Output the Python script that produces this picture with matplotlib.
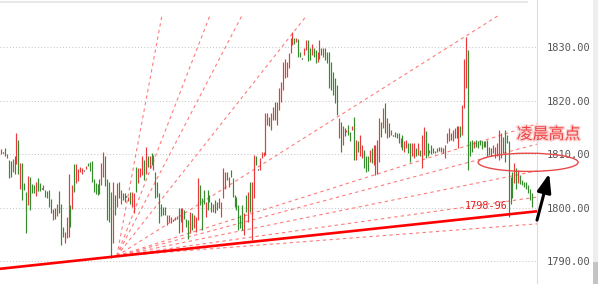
import numpy as np
import matplotlib
matplotlib.use("Agg")
import matplotlib.pyplot as plt
from matplotlib.patches import Ellipse, Rectangle
from matplotlib.lines import Line2D
import matplotlib.patheffects as pe

# bar highs / lows (one entry per bar)
highs = [
    1811.0, 1810.5, 1811.1, 1810.0, 1808.9, 1808.7, 1809.1, 1809.7, 1813.9, 1812.7,
    1808.4, 1808.3, 1804.6, 1802.9, 1805.9, 1805.7, 1804.4, 1804.3, 1804.9, 1805.6,
    1804.7, 1803.7, 1804.3, 1803.3, 1803.1, 1803.3, 1801.6, 1799.7, 1799.9, 1800.8,
    1803.2, 1800.7, 1796.5, 1795.5, 1798.3, 1806.3, 1800.5, 1804.3, 1808.2, 1808.2,
    1807.2, 1807.7, 1807.5, 1807.0, 1807.8, 1808.3, 1808.6, 1808.8, 1805.3, 1804.6,
    1804.4, 1805.4, 1808.3, 1810.5, 1809.7,
    1805.3, 1804.9, 1803.0, 1804.9, 1802.4, 1804.6, 1804.9, 1803.3, 1802.7, 1802.7,
    1802.3, 1802.1, 1803.0, 1803.0, 1802.7, 1807.7, 1807.4, 1807.4, 1809.6, 1808.9,
    1811.4, 1809.6, 1809.7, 1810.3, 1809.9, 1806.7, 1804.9, 1802.7, 1800.8, 1800.2,
    1800.2, 1798.7, 1798.7, 1798.2, 1797.8, 1798.2, 1798.5, 1799.9, 1799.9, 1799.9,
    1799.6, 1798.0, 1797.7, 1799.3, 1799.1, 1798.7, 1798.3, 1805.5, 1804.3, 1801.8,
    1803.3, 1801.1, 1803.3, 1802.4, 1801.1, 1800.8, 1801.5, 1801.1, 1801.8, 1801.1,
    1807.4, 1806.7, 1806.7, 1805.8, 1807.1, 1805.5, 1802.4, 1802.1, 1800.5, 1798.7,
    1800.5,
    1799.0, 1802.4, 1803.0, 1804.9, 1804.9, 1809.9, 1809.6, 1807.2, 1809.3, 1810.5,
    1810.5, 1817.7, 1817.7, 1817.0, 1817.7, 1818.9, 1819.8, 1819.8, 1822.3, 1823.6,
    1827.3, 1827.9, 1827.3, 1828.9, 1831.7, 1832.9, 1831.8, 1831.7, 1831.6, 1829.2,
    1828.0, 1829.8, 1831.4, 1831.4, 1829.8, 1830.7, 1829.8, 1829.5, 1829.2, 1831.4,
    1829.9, 1829.9, 1829.8, 1829.2, 1829.2, 1827.3, 1825.4, 1824.2,
    1823.0, 1816.7, 1816.1, 1815.2, 1814.9, 1814.5, 1815.5, 1814.2, 1815.2, 1817.0,
    1812.7, 1812.4, 1813.6, 1811.7, 1810.8, 1809.6, 1809.6, 1810.8, 1811.1, 1811.7,
    1811.7, 1812.7, 1816.7, 1816.1, 1818.6, 1819.5, 1816.7, 1815.8, 1814.5, 1813.7,
    1814.1, 1813.9, 1813.9, 1813.0, 1813.6, 1812.4, 1812.7, 1812.1, 1812.1, 1812.1,
    1812.1, 1811.1, 1812.1, 1810.8, 1813.6, 1815.1, 1814.4, 1812.1, 1810.8, 1811.7,
    1811.1, 1810.7, 1811.1, 1811.3, 1811.4, 1811.1, 1811.7, 1813.9, 1814.9, 1813.9,
    1814.5, 1814.9, 1815.2, 1815.2, 1815.2, 1819.2, 1827.9, 1832.0, 1829.5, 1812.4,
    1812.7, 1812.4, 1812.7, 1812.5, 1812.7, 1812.4, 1812.5, 1812.4, 1812.7, 1811.4,
    1811.2, 1811.7, 1811.4, 1812.1, 1814.5, 1813.9, 1813.3, 1814.5, 1813.6, 1812.5,
    1805.8, 1806.7, 1808.3, 1807.4, 1807.1, 1806.1, 1805.2, 1804.9, 1804.9, 1804.3,
    1803.6, 1802.7,
]
lows = [
    1810.0, 1810.3, 1809.7, 1809.4, 1805.5, 1805.7, 1806.6, 1806.4, 1808.1, 1806.4,
    1803.5, 1801.5, 1803.3, 1795.3, 1800.5, 1799.6, 1802.8, 1802.8, 1802.2, 1803.1,
    1803.2, 1803.5, 1803.3, 1802.1, 1801.8, 1800.1, 1799.1, 1797.7, 1797.9, 1798.5,
    1799.1, 1793.0, 1794.5, 1793.5, 1794.3, 1794.6, 1796.4, 1799.7, 1803.0, 1804.6,
    1805.1, 1806.7, 1806.4, 1806.8, 1807.2, 1807.8, 1806.9, 1804.9, 1803.0, 1802.6,
    1802.4, 1802.6, 1804.3, 1805.8, 1804.1,
    1797.7, 1797.4, 1790.6, 1793.4, 1798.7, 1800.2, 1801.8, 1800.8, 1801.5, 1801.1,
    1802.1, 1801.3, 1800.8, 1800.2, 1799.0, 1803.0, 1804.6, 1805.8, 1806.1, 1805.2,
    1806.4, 1807.7, 1807.4, 1808.0, 1807.1, 1801.8, 1802.1, 1797.1, 1798.5, 1798.7,
    1798.7, 1796.8, 1797.4, 1797.2, 1797.6, 1797.7, 1797.9, 1795.2, 1797.4, 1795.5,
    1798.0, 1796.5, 1794.1, 1795.2, 1795.8, 1796.2, 1795.5, 1797.7, 1800.5, 1795.8,
    1800.8, 1798.3, 1799.6, 1801.1, 1799.3, 1799.3, 1799.0, 1799.6, 1799.9, 1798.3,
    1801.8, 1803.6, 1805.2, 1803.9, 1805.8, 1802.1, 1800.2, 1799.6, 1795.8, 1796.2,
    1795.8,
    1794.9, 1799.3, 1797.4, 1799.3, 1794.0, 1801.8, 1808.0, 1807.0, 1807.1, 1809.3,
    1809.6, 1809.9, 1815.5, 1815.2, 1814.5, 1816.4, 1816.4, 1815.5, 1818.3, 1819.8,
    1822.0, 1824.2, 1824.5, 1826.1, 1828.9, 1830.4, 1830.7, 1831.0, 1828.2, 1828.2,
    1827.8, 1828.6, 1829.5, 1827.4, 1827.6, 1828.6, 1828.2, 1827.0, 1827.3, 1827.9,
    1828.6, 1828.2, 1827.6, 1827.0, 1822.3, 1822.0, 1821.1, 1819.5,
    1817.3, 1813.0, 1810.5, 1811.7, 1813.5, 1814.2, 1813.6, 1812.4, 1814.5, 1808.9,
    1808.9, 1810.5, 1809.6, 1809.3, 1807.4, 1806.7, 1806.9, 1808.6, 1808.3, 1808.0,
    1806.1, 1806.4, 1808.6, 1813.3, 1814.9, 1813.9, 1813.0, 1813.3, 1813.6, 1813.5,
    1813.3, 1813.0, 1812.1, 1811.4, 1810.8, 1810.5, 1811.1, 1810.2, 1808.6, 1809.6,
    1809.3, 1809.6, 1809.9, 1809.6, 1807.5, 1809.9, 1809.3, 1809.6, 1810.2, 1810.0,
    1810.2, 1810.2, 1810.4, 1810.6, 1810.5, 1810.2, 1809.3, 1812.2, 1812.4, 1812.7,
    1812.4, 1813.0, 1813.1, 1811.2, 1813.3, 1813.6, 1818.6, 1822.3, 1807.1, 1809.6,
    1810.5, 1811.1, 1811.4, 1811.1, 1811.7, 1811.0, 1811.4, 1811.4, 1809.6, 1809.9,
    1809.6, 1810.2, 1809.3, 1809.6, 1808.9, 1809.3, 1810.2, 1808.6, 1812.1, 1798.3,
    1800.8, 1801.8, 1804.6, 1803.6, 1804.6, 1804.4, 1804.3, 1803.9, 1803.6, 1802.7,
    1801.5, 1800.2,
]
# r = up, g = down, k = doji
cols = ("rkgrggrgrg" "rgggrgggrg" "gkrggggrgr" "gggrrrgrgr" "rrrkrggggg" "ggrrg"
        "gggrgrgrgg" "krgrrgrrrg" "rgrgrggggg" "grrrkrrggr" "gggrgrrrgg" "grgggrggrr"
        "rrgrgggggg" "g"
        "rgrgrrgkrr" "rrrgrrgrrr" "rrrrrrgrgg" "krrggrggrr" "grgggggg"
        "grgrgrggrg" "rgrrgggrgr" "rrrgrgrgrk" "gggrgrrggr" "rgrgrrggrg"
        "ggrgrgrrrg" "rrgrgrrrgg" "grgggggrgr" "grrrrrgggg" "ggrgrggggg" "gg")

yticks = [1790, 1800, 1810, 1820, 1830]

# support line and fan lines (bar index, price)
trend = [(-0.52, 1788.6), (277.7, 1799.35)]
fan_origin = (60.0, 1791.0)
fan_ends = [(83.4, 1836.0), (108.3, 1836.0), (124.9, 1836.0), (158.5, 1836.0),
            (258.0, 1836.0), (277.7, 1815.7), (277.7, 1811.9), (277.7, 1806.9),
            (277.7, 1802.0), (277.7, 1797.0)]

red = "#e83a3a"
green = "#348c2c"
cmap = {"r": red, "g": green, "k": "#111111"}

fig = plt.figure(figsize=(6.03, 2.84), dpi=100)
ax = fig.add_axes([0, 0, 537 / 603, 1])

x = np.arange(len(highs))
ax.vlines(x, lows, highs, colors=[cmap[c] for c in cols], lw=0.85, zorder=3)

# grid
for t in yticks:
    ax.axhline(t, color="#c8c8c8", lw=0.75, ls=(0, (1, 2)), zorder=1)

for ex, ey in fan_ends:
    ax.plot([fan_origin[0], ex], [fan_origin[1], ey], color="#ff7b7b", lw=0.8,
            ls=(0, (3, 3)), zorder=2)

ax.plot([p[0] for p in trend], [p[1] for p in trend], color="#ff0000", lw=1.9,
        zorder=4, solid_capstyle="butt")

ax.set_xlim(-0.52, 277.7)
ax.set_ylim(1785.76, 1838.84)

ax.yaxis.tick_right()
ax.set_yticks(yticks)
ax.set_yticklabels([f"{t:.2f}" for t in yticks], family="DejaVu Sans Mono",
                   fontsize=7.5, color="#555555")
ax.tick_params(axis="y", length=0, pad=7)
ax.set_xticks([])
for s in ["top", "left", "bottom"]:
    ax.spines[s].set_visible(False)
ax.spines["right"].set_color("#dcdcdc")
ax.spines["right"].set_linewidth(0.8)

# annotations
ax.text(240.4, 1800.3, "1798-96", color="#e02020", fontsize=7.3,
        family="DejaVu Sans Mono", va="center", ha="left", zorder=5)

ell = Ellipse((273.1, 1808.5), 51.8, 3.4, fill=False, ec="#e84a4a", lw=1.0,
              clip_on=False, zorder=5)
ax.add_patch(ell)

ax.text(283.7, 1813.7, "凌晨高点", color="#f04444", fontsize=11.5,
        family=["Noto Sans CJK SC", "DejaVu Sans"], ha="center", va="center",
        clip_on=False, zorder=6,
        path_effects=[pe.withStroke(linewidth=2, foreground="#fbd0d0")])

ax.annotate("", xy=(284.0, 1806.4), xytext=(277.7, 1797.7),
            arrowprops=dict(arrowstyle="-|>,head_length=0.8,head_width=0.3",
                            color="black", lw=2.2, mutation_scale=14,
                            shrinkA=0, shrinkB=0),
            annotation_clip=False, zorder=6)

# frame bits: top border and scrollbar
fig.add_artist(Line2D([0, 527 / 603], [1 - 2 / 284] * 2, transform=fig.transFigure,
                      color="#e8e8e8", lw=1.5))
fig.add_artist(Rectangle((593 / 603, 0), 5 / 603, 1, transform=fig.transFigure,
                         color="#eeeeee", lw=0))
fig.add_artist(Rectangle((593 / 603, 0), 5 / 603, 22 / 284, transform=fig.transFigure,
                         color="#c4c4c4", lw=0))

fig.savefig("out.png", dpi=100)
